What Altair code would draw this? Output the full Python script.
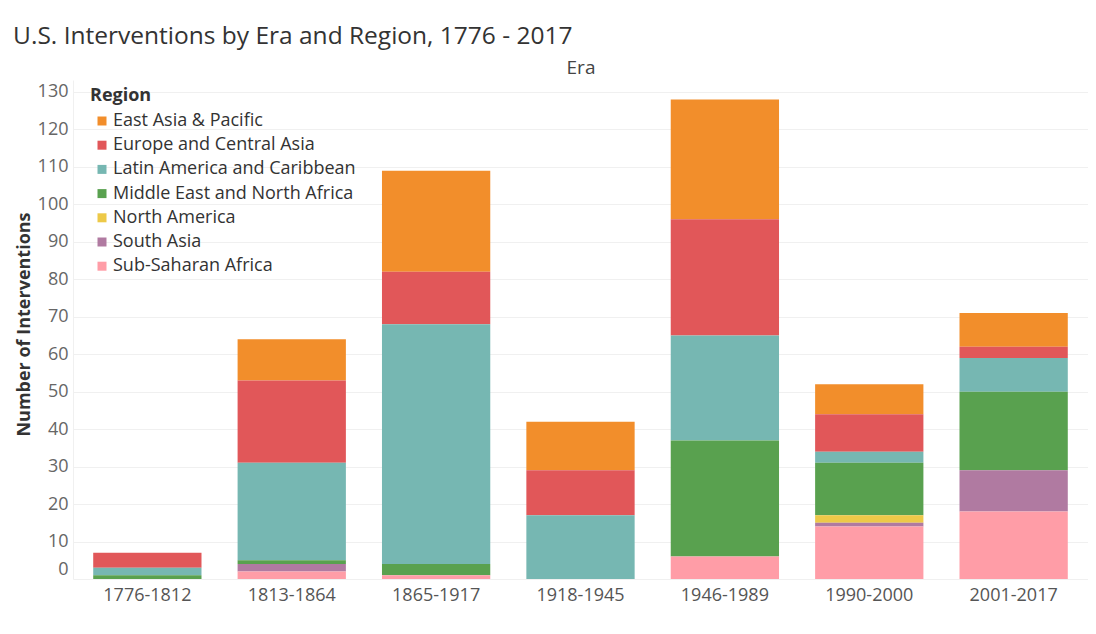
import altair as alt
import pandas as pd

eras = ["1776-1812", "1813-1864", "1865-1917", "1918-1945", "1946-1989", "1990-2000", "2001-2017"]
regions = [
    "East Asia & Pacific",
    "Europe and Central Asia",
    "Latin America and Caribbean",
    "Middle East and North Africa",
    "North America",
    "South Asia",
    "Sub-Saharan Africa",
]
colors = ["#F28E2B", "#E15759", "#76B7B2", "#59A14F", "#EDC948", "#B07AA1", "#FF9DA7"]

east_asia = [0, 11, 27, 13, 32, 8, 9]
europe = [4, 22, 14, 12, 31, 10, 3]
latin_america = [2, 26, 64, 17, 28, 3, 9]
middle_east = [1, 1, 3, 0, 31, 14, 21]
north_america = [0, 0, 0, 0, 0, 2, 0]
south_asia = [0, 2, 0, 0, 0, 1, 11]
sub_saharan = [0, 2, 1, 0, 6, 14, 18]

series = [east_asia, europe, latin_america, middle_east, north_america, south_asia, sub_saharan]
y_ticks = list(range(0, 131, 10))

rows = []
for reg, vals in zip(regions, series):
    for era, v in zip(eras, vals):
        if v > 0:
            rows.append({"Era": era, "Region": reg, "Count": v})
df = pd.DataFrame(rows)

FONT = "Open Sans"

chart = (
    alt.Chart(df)
    .mark_bar()
    .encode(
        x=alt.X(
            "Era:N",
            sort=eras,
            scale=alt.Scale(paddingInner=0.25, paddingOuter=0.14),
            axis=alt.Axis(
                title="Era",
                titleY=-512,
                titleBaseline="middle",
                titleFontSize=19,
                titleFontWeight="normal",
                titleColor="#444444",
                titleFont=FONT,
                labelFont=FONT,
                labelFontSize=18,
                labelColor="#555555",
                labelPadding=7,
                ticks=False,
                domain=False,
                labelAngle=0,
            ),
        ),
        y=alt.Y(
            "sum(Count):Q",
            scale=alt.Scale(domain=[0, 133.2], nice=False),
            axis=alt.Axis(
                title="Number of Interventions",
                values=y_ticks,
                titleFont=FONT,
                titleFontSize=18,
                titleFontWeight="bold",
                titleColor="#333333",
                titlePadding=4,
                titleY=244,
                labelFont=FONT,
                labelFontSize=18,
                labelColor="#666666",
                labelPadding=5,
                labelBaseline={"condition": {"test": "datum.value === 0", "value": "bottom"}, "value": "middle"},
                labelOffset={"condition": {"test": "datum.value === 0", "value": -1}, "value": 0},
                ticks=False,
                domain=True,
                domainColor="#f0f0f0",
                gridColor="#f0f0f0",
            ),
        ),
        color=alt.Color(
            "Region:N",
            scale=alt.Scale(domain=regions, range=colors),
            legend=alt.Legend(
                title="Region",
                orient="none",
                legendX=17,
                legendY=7,
                padding=0,
                titleFont=FONT,
                titleFontSize=18,
                titleFontWeight="bold",
                titleColor="#333333",
                titlePadding=7,
                labelFont=FONT,
                labelFontSize=18,
                labelColor="#333333",
                labelOffset=2,
                labelLimit=400,
                rowPadding=6.2,
                symbolType="square",
                symbolSize=81,
                symbolOffset=3,
                symbolStrokeWidth=0,
            ),
        ),
        order=alt.Order("Region:N", sort="descending"),
    )
    .properties(
        width=1015,
        height=499,
        padding={"left": 65, "top": 72, "right": 0, "bottom": 40},
        autosize=alt.AutoSizeParams(type="none"),
        title=alt.TitleParams(
            "U.S. Interventions by Era and Region, 1776 - 2017",
            anchor="start",
            font=FONT,
            fontSize=24.5,
            fontWeight="normal",
            color="#333333",
            dx=-2,
            dy=-5,
        ),
    )
    .configure_view(stroke=None)
)

chart.save("out.html", embed_options={"renderer": "svg", "actions": False})
